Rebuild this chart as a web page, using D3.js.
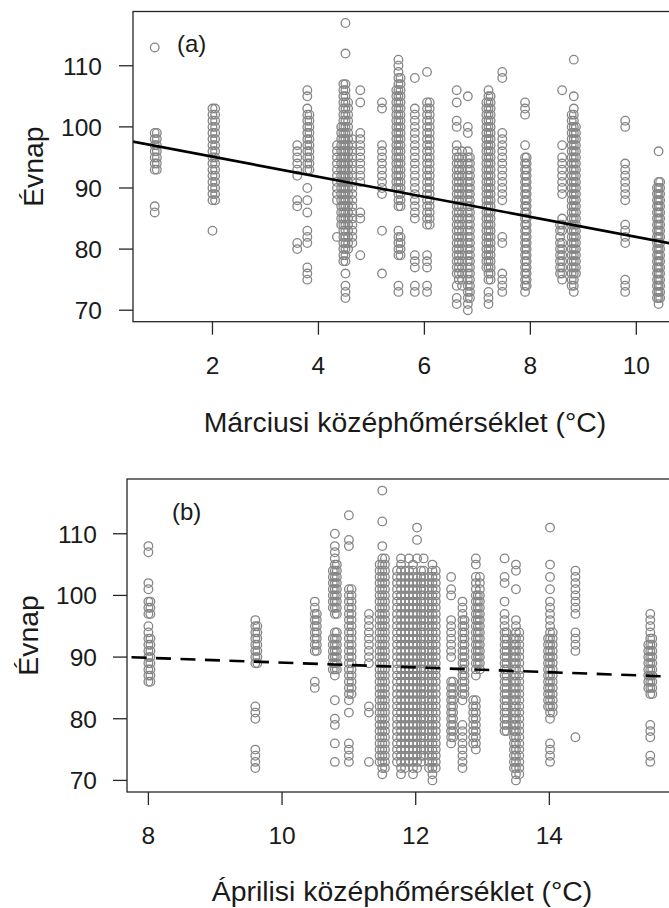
<!DOCTYPE html>
<html><head><meta charset="utf-8">
<script src="https://cdn.jsdelivr.net/npm/d3@7"></script>
<style>body{margin:0;background:#fff}svg{display:block}</style>
</head><body>
<script>
const marchTemps = [0.91, 0.95, 2.0, 2.05, 3.6, 3.79, 3.83, 4.35, 4.43, 4.47, 4.51, 4.56, 4.64, 4.79, 5.2, 5.47, 5.51, 5.55, 5.82, 6.05, 6.1, 6.61, 6.65, 6.71, 6.82, 6.86, 7.17, 7.21, 7.25, 7.47, 7.9, 7.93, 8.56, 8.6, 8.78, 8.82, 8.86, 9.79, 10.39, 10.42, 10.45];
const marchDays = [
  [113,99,98,97,96,95,94,93,87,86],
  [99,98,97,96,95,94,93],
  [103,102,101,100,99,98,97,96,95,94,93,92,91,90,89,88,83],
  [103,102,101,100,99,98,97,96,95,94,93,92,91,90,89,88],
  [97,96,95,94,93,92,88,87,81,80],
  [106,105,103,102,101,100,99,98,97,96,95,94,93,90,88,86,83,82,81,77,76,75],
  [102,101,100,99,98,97,96,95,94,93],
  [97,96,95,94,93,92,91,90,89,88,82],
  [100,99,98,97,96,95,94,93,92,91,90,89,88,87,86,85,84],
  [107,106,105,104,103,102,101,100,99,98,97,96,95,94,93,92,91,90,89,88,87,86,85,84,83,82,81,80,79,78],
  [117,112,107,106,105,104,103,102,101,100,99,98,97,96,95,94,93,92,91,90,89,88,87,86,85,84,83,82,81,80,79,78,76,74,73,72],
  [104,103,102,101,100,99,98,97,96,95,94,93,92,91,90,89,88,87,86,85,84,83,82,81,80],
  [98,97,96,95,94,93,92,91,90,89,88,87,86,85,84,83,82,81],
  [106,104,99,98,97,96,95,94,93,92,91,86,85,79],
  [104,103,97,96,95,94,93,92,91,90,89,83,76],
  [106,105,104,103,102,101,100,99,98,97,96,95,94,93,92,91,90],
  [111,110,109,108,107,106,105,104,103,102,101,100,99,98,97,96,95,94,93,92,91,90,89,88,87,83,82,81,80,79,74,73],
  [108,107,106,105,104,103,102,101,100,99,98,97,96,95,94,93,92,91,90,89,88,87,82,81,80,79],
  [108,103,102,101,100,99,98,97,96,95,94,93,92,91,90,89,88,87,86,85,79,78,77,74,73],
  [109,104,103,102,101,100,99,98,97,96,95,94,93,92,91,90,89,88,87,86,85,84,79,78,77,74,73],
  [104,103,102,101,100,99,98,97,96,95,94,93,92,91,90,89,88,87,86,85,84],
  [106,104,101,100,97,96,95,94,93,92,91,90,89,88,87,86,85,84,83,82,81,80,79,78,77,76,74,72,71],
  [95,94,93,92,91,90,89,88,87,86,85,84,83,82,81,80,79,78,77,76,75],
  [96,95,94,93,92,91,90,89,88,87,86,85,84,83,82,81,80,79,78,77,76,75,74],
  [105,100,99,96,95,94,93,92,91,90,89,88,87,86,85,84,83,82,81,80,79,78,77,76,75,74,73,72,71,70],
  [95,94,93,92,91,90,89,88,87,86,85,84,83,82,81,80,79,78,77,76,75,74,73,72],
  [104,103,102,101,100,99,98,97,96,95,94,93,92,91,90,89,88,87,86,85,84,83,82,81,80,79,78,77],
  [106,105,104,103,102,101,100,99,98,97,96,95,94,93,92,91,90,89,88,87,86,85,84,83,82,81,80,79,78,77,76,75,73,72,71],
  [105,104,103,102,101,100,99,98,97,96,95,94,93,92,91,90,89,88,87,86,85,84,83,82,81,80,79,78,77,76,75],
  [109,108,99,98,97,96,95,94,93,92,91,90,89,88,82,81,76,75,74,73],
  [104,103,102,97,95,94,93,92,91,90,89,88,87,86,85,84,83,82,81,80,79,78,77,76,75,74,73],
  [95,94,93,92,91,90,89,88,87,86,85,84,83,82,81,80,79,78,77,76,75,74],
  [84,83,82,81,80,79,78,77,76],
  [106,97,95,94,93,92,91,90,89,85,84,83,81,80,79,78,77,76,75],
  [102,101,100,99,98,97,96,95,94,93,92,91,90,89,88,87,86,85,84,83,82,81,80,79,78,77,76,75,74],
  [111,105,103,102,101,100,99,98,97,96,95,94,93,92,91,90,89,88,87,86,85,84,83,82,81,80,79,78,77,76,75,74,73],
  [100,99,98,97,96,95,94,93,92,91,90,89,88,87,86,85,84,83,82,81,80,79,78,77,76],
  [101,100,94,93,92,91,90,89,88,84,83,82,81,75,74,73],
  [90,89,88,87,86,85,84,83,82,81,80,79,78,77,76,75,74,73,72],
  [96,91,90,89,88,87,86,85,84,83,82,81,80,79,78,77,76,75,74,73,72,71],
  [91,90,89,88,87,86,85,84,83,82,81,80,79,78,77,76,75,74,73,72]
];
const aprilTemps = [8.0, 8.03, 9.6, 9.63, 10.49, 10.52, 10.76, 10.79, 10.82, 11.0, 11.04, 11.3, 11.46, 11.5, 11.54, 11.72, 11.78, 11.84, 11.9, 11.96, 12.02, 12.08, 12.12, 12.2, 12.25, 12.3, 12.53, 12.56, 12.7, 12.73, 12.86, 12.9, 12.93, 12.96, 13.33, 13.36, 13.47, 13.5, 13.55, 13.98, 14.01, 14.05, 14.39, 15.48, 15.51, 15.54];
const aprilDays = [
  [108,107,102,101,99,98,97,95,94,93,92,91,90,89,88,87,86],
  [99,98,97,93,92,91,90,89,88,87,86],
  [96,95,94,93,92,91,90,89,82,81,80,75,74,73,72],
  [95,94,93,92,91,90,89],
  [99,98,97,96,95,94,93,92,91,86,85],
  [97,96,95,94,93,92,91],
  [104,103,102,101,100,99,98,93,92,91,90,89,88],
  [110,108,107,106,105,104,103,102,101,100,99,98,97,94,93,92,91,90,89,88,87,83,80,79,76,73],
  [105,104,103,102,101,100,99,98,97,94,93,92,91,90,89,88],
  [113,109,108,101,100,99,98,97,96,95,94,93,92,91,90,89,88,87,86,85,84,83,81,76,75,74,73],
  [101,100,99,98,97,96,95,94,93,92,91,90,89,88,87,86,85,84],
  [97,96,95,94,93,92,91,90,89,82,81,73],
  [105,104,103,102,101,100,99,98,97,96,95,94,93,92,91,90,89,88,87,86,85,84,83,82,81,80,79,78,77,76,75,74,73],
  [117,112,108,106,105,104,103,102,101,100,99,98,97,96,95,94,93,92,91,90,89,88,87,86,85,84,83,82,81,80,79,78,77,76,75,74,73,72,71],
  [106,105,104,103,102,101,100,99,98,97,96,95,94,93,92,91,90,89,88,87,86,85,84,83,82,81,80,79,78,77,76,75,74,73,72],
  [104,103,102,101,100,99,98,97,96,95,94,93,92,91,90,89,88,87,86,85,84,83,82,81,80,79,78,77,76,75,74,73],
  [106,105,104,103,102,101,100,99,98,97,96,95,94,93,92,91,90,89,88,87,86,85,84,83,82,81,80,79,78,77,76,75,74,73,72,71],
  [104,103,102,101,100,99,98,97,96,95,94,93,92,91,90,89,88,87,86,85,84,83,82,81,80,79,78,77,76,75,74,73,72],
  [106,104,103,102,101,100,99,98,97,96,95,94,93,92,91,90,89,88,87,86,85,84,83,82,81,80,79,78,77,76,75,74,73],
  [105,104,103,102,101,100,99,98,97,96,95,94,93,92,91,90,89,88,87,86,85,84,83,82,81,80,79,78,77,76,75,74,73,72,71],
  [111,109,106,103,102,101,100,99,98,97,96,95,94,93,92,91,90,89,88,87,86,85,84,83,82,81,80,79,78,77,76,75,74,73,72],
  [104,103,102,101,100,99,98,97,96,95,94,93,92,91,90,89,88,87,86,85,84,83,82,81,80,79,78,77,76,75,74,73],
  [106,104,103,102,101,100,99,98,97,96,95,94,93,92,91,90,89,88,87,86,85,84,83,82,81,80,79,78,77,76,75,74],
  [103,102,101,100,99,98,97,96,95,94,93,92,91,90,89,88,87,86,85,84,83,82,81,80,79,78,77,76,75,74,73,72],
  [105,104,103,102,101,100,99,98,97,96,95,94,93,92,91,90,89,88,87,86,85,84,83,82,81,80,79,78,77,76,75,74,73,72,71,70],
  [104,103,102,101,100,99,98,97,96,95,94,93,92,91,90,89,88,87,86,85,84,83,82,81,80,79,78,77,76,75,74,73,72],
  [103,101,100,96,95,94,93,92,91,90,86,85,84,83,82,81,80,79,78,77,76],
  [86,85,84,83,82,81,80,79,78,77],
  [99,98,97,96,95,94,93,92,91,90,89,88,87,86,85,84,83,79,78,77,76,75,74,73,72],
  [96,95,94,93,92,91,90,89,88,87,86,85,84],
  [83,82,81,80,79,78,77,76],
  [106,105,103,102,101,100,99,98,97,96,95,94,93,92,91,90,89,88,87,83,82,81,80,79,78,77,76,75],
  [100,99,98,97,96,95,94,93,92,91,90,89],
  [103,102,101,100,99,98,97,96,95,94,93,92,91,90,89,88],
  [106,103,102,99,97,96,95,94,93,92,91,90,89,88,87,86,85,84,83,82,81,80,79,78],
  [94,93,92,91,90,89,88,87,86,85,84,83,82,81,80,79,78],
  [93,92,91,90,89,88,87,86,85,84,83,82,81,80,79,78,77,76,75,74,73,72],
  [105,104,101,96,95,94,93,92,91,90,89,88,87,86,85,84,83,82,81,80,79,78,77,76,75,74,73,72,71,70],
  [94,93,92,91,90,89,88,87,86,85,84,83,82,81,80,79,78,77,76,75,74,73,72,71],
  [93,92,91,90,89,88,87,86,85,84,83,82],
  [111,105,103,101,99,98,97,96,95,94,93,92,91,90,89,88,87,86,85,84,83,82,81,80,76,75,74,73],
  [94,93,92,91,90,89,88,87,86,85,84,83,82,81],
  [104,103,102,101,100,99,98,97,94,93,92,91,77],
  [92,91,90,89,88,87,86,85],
  [97,96,95,94,93,92,91,90,89,88,87,86,85,84,79,78,77,74,73],
  [93,92,91,90,89,88,87,86,85,84]
];
const yTicks = [70, 80, 90, 100, 110];
const marchXTicks = [2, 4, 6, 8, 10];
const aprilXTicks = [8, 10, 12, 14];
const marchFit = { intercept: 98.4, slope: -1.64 };
const aprilFit = { intercept: 92.98, slope: -0.388 };
const panelTags = ["(a)", "(b)"];
const xTitles = ["Márciusi középhőmérséklet (°C)", "Áprilisi középhőmérséklet (°C)"];
const yTitle = "Évnap";

// ---- layout ----
const W = 669, H = 908;
const FONT = "'Liberation Sans', Arial, sans-serif";
const TXT = "#1a1a1a", PT = "#868686";

const svg = d3.select("body").append("svg").attr("width", W).attr("height", H);

const panels = [
  { temps: marchTemps, days: marchDays, ticks: marchXTicks, fit: marchFit, tag: panelTags[0], title: xTitles[0],
    box: { l: 133, r: 684, t: 11.5, b: 321.7 }, xDom: [0.5, 10.9],
    tickLabY: 374, titleY: 432, yTitleX: 43, yLabR: 102, tagX: 177, tagY: 52, dashed: false },
  { temps: aprilTemps, days: aprilDays, ticks: aprilXTicks, fit: aprilFit, tag: panelTags[1], title: xTitles[1],
    box: { l: 127, r: 673, t: 479, b: 792 }, xDom: [7.68, 15.85],
    tickLabY: 844, titleY: 901, yTitleX: 38, yLabR: 97, tagX: 172, tagY: 520, dashed: true }
];

panels.forEach((p, i) => {
  const b = p.box;
  const x = d3.scaleLinear().domain(p.xDom).range([b.l, b.r]);
  const y = d3.scaleLinear().domain([68.12, 118.88]).range([b.b, b.t]);
  const g = svg.append("g");
  const clipId = "clip" + i;
  svg.append("clipPath").attr("id", clipId).append("rect")
    .attr("x", b.l).attr("y", b.t).attr("width", b.r - b.l).attr("height", b.b - b.t);

  // points
  const pts = [];
  p.temps.forEach((t, k) => p.days[k].forEach(d => pts.push([t, d])));
  g.append("g").selectAll("circle").data(pts).join("circle")
    .attr("cx", d => x(d[0])).attr("cy", d => y(d[1])).attr("r", 4.3)
    .attr("fill", "none").attr("stroke", PT).attr("stroke-width", 1.3);

  // regression line
  const x0 = x.invert(b.l - 20), x1 = x.invert(b.r + 20);
  g.append("line").attr("clip-path", `url(#${clipId})`)
    .attr("x1", x(x0)).attr("y1", y(p.fit.intercept + p.fit.slope * x0))
    .attr("x2", x(x1)).attr("y2", y(p.fit.intercept + p.fit.slope * x1))
    .attr("stroke", "#000").attr("stroke-width", 2.6)
    .attr("stroke-dasharray", p.dashed ? "15,9.5" : null);

  // box
  g.append("rect").attr("x", b.l).attr("y", b.t).attr("width", b.r - b.l).attr("height", b.b - b.t)
    .attr("fill", "none").attr("stroke", "#262626").attr("stroke-width", 1.3);

  // y axis
  const ya = g.append("g");
  ya.selectAll("line").data(yTicks).join("line")
    .attr("x1", b.l).attr("x2", b.l - 14).attr("y1", d => y(d)).attr("y2", d => y(d))
    .attr("stroke", "#262626").attr("stroke-width", 1.3);
  ya.selectAll("text").data(yTicks).join("text")
    .attr("x", p.yLabR).attr("y", d => y(d)).attr("dy", "0.36em")
    .attr("text-anchor", "end").attr("font-family", FONT).attr("font-size", 24.5).attr("fill", TXT)
    .text(d => d);

  // x axis
  const xa = g.append("g");
  xa.selectAll("line").data(p.ticks).join("line")
    .attr("x1", d => x(d)).attr("x2", d => x(d)).attr("y1", b.b).attr("y2", b.b + 13)
    .attr("stroke", "#262626").attr("stroke-width", 1.3);
  xa.selectAll("text").data(p.ticks).join("text")
    .attr("x", d => x(d)).attr("y", p.tickLabY)
    .attr("text-anchor", "middle").attr("font-family", FONT).attr("font-size", 24.5).attr("fill", TXT)
    .text(d => d);

  // titles
  g.append("text").attr("x", (b.l + 669) / 2 + 4).attr("y", p.titleY)
    .attr("text-anchor", "middle").attr("font-family", FONT).attr("font-size", 28.4).attr("fill", TXT)
    .text(p.title);
  g.append("text").attr("transform", `translate(${p.yTitleX},${(b.t + b.b) / 2}) rotate(-90)`)
    .attr("text-anchor", "middle").attr("font-family", FONT).attr("font-size", 28.4).attr("fill", TXT)
    .text(yTitle);
  g.append("text").attr("x", p.tagX).attr("y", p.tagY)
    .attr("font-family", FONT).attr("font-size", 24).attr("fill", TXT).text(p.tag);
});
</script>
</body></html>
